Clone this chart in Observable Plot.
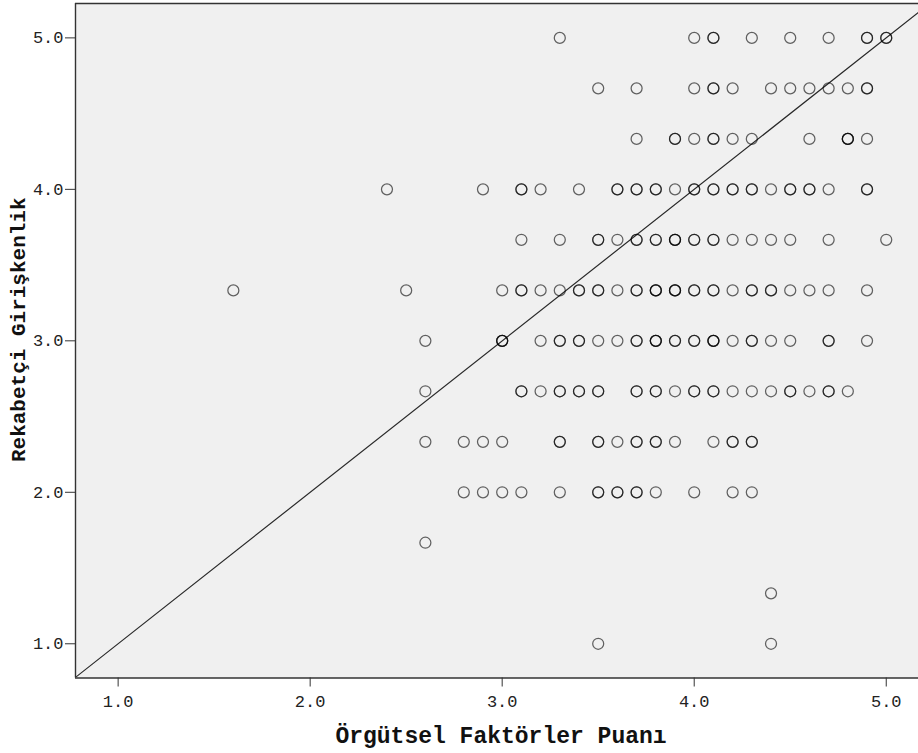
<!DOCTYPE html>
<html>
<head>
<meta charset="utf-8">
<script src="https://cdn.jsdelivr.net/npm/d3@7"></script>
<script src="https://cdn.jsdelivr.net/npm/@observablehq/plot@0.6"></script>
<style>
  html, body { margin: 0; padding: 0; background: #ffffff; }
  #chart svg { display: block; }
</style>
</head>
<body>
<div id="chart"></div>
<script>
// Axis ticks and titles
const xTicks = [1, 2, 3, 4, 5];
const yTicks = [1, 2, 3, 4, 5];
const xTitle = "Örgütsel Faktörler Puanı";
const yTitle = "Rekabetçi Girişkenlik";

// Rekabetçi Girişkenlik takes values in steps of one third
const yLevels = [5.0, 4.667, 4.333, 4.0, 3.667, 3.333, 3.0, 2.667, 2.333, 2.0, 1.667, 1.333, 1.0];

// Örgütsel Faktörler Puanı of each respondent, one list per y level
// (repeated values are respondents sharing the same pair of scores)
const xAt500 = [3.3, 4.0, 4.1, 4.1, 4.3, 4.5, 4.7, 4.9, 4.9, 5.0, 5.0];
const xAt467 = [3.5, 3.7, 4.0, 4.1, 4.1, 4.2, 4.4, 4.5, 4.6, 4.7, 4.8, 4.9, 4.9];
const xAt433 = [3.7, 3.9, 3.9, 4.0, 4.1, 4.1, 4.2, 4.3, 4.6, 4.8, 4.8, 4.8, 4.9];
const xAt400 = [2.4, 2.9, 3.1, 3.1, 3.2, 3.4, 3.6, 3.6, 3.7, 3.7, 3.8, 3.8, 3.9, 4.0, 4.0,
                4.1, 4.1, 4.2, 4.2, 4.3, 4.3, 4.4, 4.5, 4.5, 4.6, 4.6, 4.7, 4.9, 4.9];
const xAt367 = [3.1, 3.3, 3.5, 3.5, 3.6, 3.7, 3.7, 3.8, 3.8, 3.9, 3.9, 3.9, 4.0, 4.0,
                4.1, 4.1, 4.2, 4.3, 4.4, 4.5, 4.7, 5.0];
const xAt333 = [1.6, 2.5, 3.0, 3.1, 3.1, 3.2, 3.3, 3.4, 3.4, 3.5, 3.5, 3.6, 3.7, 3.7,
                3.8, 3.8, 3.8, 3.9, 3.9, 3.9, 4.0, 4.0, 4.1, 4.1, 4.2, 4.3, 4.3, 4.4, 4.4,
                4.5, 4.6, 4.7, 4.9];
const xAt300 = [2.6, 3.0, 3.0, 3.0, 3.2, 3.3, 3.3, 3.4, 3.4, 3.5, 3.6, 3.7, 3.7, 3.8,
                3.8, 3.8, 3.9, 3.9, 4.0, 4.0, 4.1, 4.1, 4.1, 4.2, 4.3, 4.3, 4.4, 4.5,
                4.7, 4.7, 4.9];
const xAt267 = [2.6, 3.1, 3.1, 3.2, 3.3, 3.3, 3.4, 3.4, 3.5, 3.5, 3.7, 3.7, 3.8, 3.8,
                3.9, 4.0, 4.0, 4.1, 4.1, 4.2, 4.3, 4.4, 4.5, 4.5, 4.6, 4.7, 4.7, 4.8];
const xAt233 = [2.6, 2.8, 2.9, 3.0, 3.3, 3.3, 3.5, 3.5, 3.6, 3.7, 3.7, 3.8, 3.8, 3.9,
                4.1, 4.2, 4.2, 4.3, 4.3];
const xAt200 = [2.8, 2.9, 3.0, 3.1, 3.3, 3.5, 3.5, 3.6, 3.6, 3.7, 3.7, 3.8, 4.0, 4.2, 4.3];
const xAt167 = [2.6];
const xAt133 = [4.4];
const xAt100 = [3.5, 4.4];

const xRows = [xAt500, xAt467, xAt433, xAt400, xAt367, xAt333, xAt300,
               xAt267, xAt233, xAt200, xAt167, xAt133, xAt100];

const points = xRows.flatMap((xs, i) => xs.map(x => ({x, y: yLevels[i]})));

// Scale extents of the plotting frame
const xDomain = [0.778, 5.168];
const yDomain = [0.774, 5.227];

// Identity reference line y = x across the frame
const diagonal = xDomain.map(v => ({x: v, y: v}));

const fmt = d3.format(".1f");
const ink = "#222222";

const chart = Plot.plot({
  width: 918,
  height: 753,
  marginLeft: 75,
  marginRight: 0,
  marginTop: 3,
  marginBottom: 75.5,
  x: {domain: xDomain},
  y: {domain: yDomain},
  style: {fontFamily: "'Liberation Mono', 'Courier New', monospace", color: ink, background: "#ffffff"},
  marks: [
    Plot.frame({fill: "#f0f0f0", stroke: "none"}),
    Plot.line(diagonal, {x: "x", y: "y", stroke: "#2a2a2a", strokeWidth: 1.2, clip: true}),
    Plot.dot(points, {x: "x", y: "y", r: 5.5, stroke: "#000000", strokeOpacity: 0.6, strokeWidth: 1.25, fill: "none"}),
    Plot.ruleX([xDomain[0]], {stroke: "#333333", strokeWidth: 1.4}),
    Plot.ruleY([yDomain[0], yDomain[1]], {stroke: "#333333", strokeWidth: 1.4}),
    Plot.axisX(xTicks, {tickSize: 9, tickPadding: 8, tickFormat: fmt, fontSize: 17, label: null, stroke: "#333333"}),
    Plot.axisY(yTicks, {tickSize: 10, tickPadding: 2, tickFormat: fmt, fontSize: 17, label: null, stroke: "#333333"}),
    Plot.text([xTitle], {
      frameAnchor: "bottom", textAnchor: "middle", lineAnchor: "bottom", dy: 64.5, dx: 4,
      fontSize: 23, fontWeight: "bold", fill: "#111111"
    }),
    Plot.text([yTitle], {
      frameAnchor: "left", textAnchor: "middle", lineAnchor: "bottom", rotate: -90, dx: -51, dy: -11,
      fontSize: 21, fontWeight: "bold", fill: "#111111"
    })
  ]
});

document.getElementById("chart").appendChild(chart);
</script>
</body>
</html>
